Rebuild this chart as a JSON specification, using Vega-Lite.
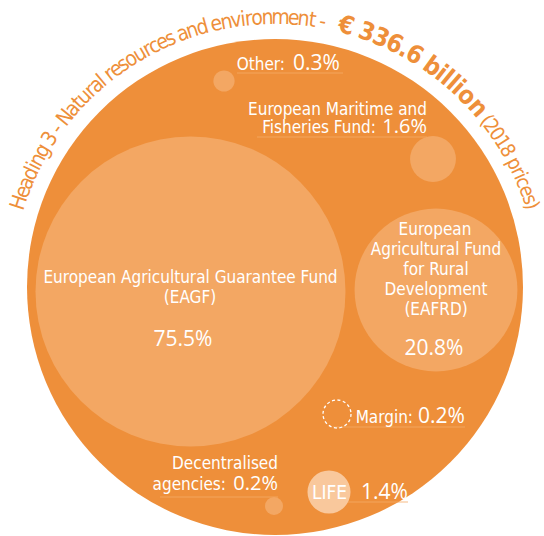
{
  "$schema": "https://vega.github.io/schema/vega-lite/v6.json",
  "width": 544,
  "height": 536,
  "padding": 0,
  "autosize": {"type": "none"},
  "background": "white",
  "config": {"view": {"stroke": null}},
  "datasets": {
    "circles": [
      {"name": "EAGF", "share": 75.5, "x": -84.5, "y": -4.5},
      {"name": "EAFRD", "share": 20.8, "x": 161, "y": -3},
      {"name": "EMFF", "share": 1.6, "x": 158, "y": 128},
      {"name": "LIFE", "share": 1.4, "x": 54, "y": -205},
      {"name": "Other", "share": 0.3, "x": -51, "y": 206},
      {"name": "Decentralised agencies", "share": 0.2, "x": -1, "y": -219},
      {"name": "Margin", "share": 0.2, "x": 62, "y": -127}
    ],
    "underlines": [
      {"label": "Other", "x": -38, "x2": 68, "y": 214},
      {"label": "EMFF", "x": -18, "x2": 152, "y": 150},
      {"label": "EAGF", "x": -223, "x2": 54, "y": 0},
      {"label": "Margin", "x": 58, "x2": 190, "y": -140},
      {"label": "LIFE", "x": 54, "x2": 133, "y": -215},
      {"label": "Decentralised", "x": -115, "x2": 3, "y": -210}
    ],
    "namesCenter": [
      {"text": "European Agricultural Guarantee Fund", "x": -84.5, "y": 4},
      {"text": "(EAGF)", "x": -85, "y": -16},
      {"text": "European", "x": 160, "y": 52},
      {"text": "Agricultural Fund", "x": 161, "y": 32},
      {"text": "for Rural", "x": 161, "y": 12},
      {"text": "Development", "x": 161, "y": -8},
      {"text": "(EAFRD)", "x": 161, "y": -28}
    ],
    "lifeName": [
      {"text": "LIFE", "x": 54.5, "y": -212}
    ],
    "namesRight": [
      {"text": "Other:", "x": 10, "y": 217},
      {"text": "European Maritime and", "x": 152, "y": 172},
      {"text": "Fisheries Fund:", "x": 101, "y": 154},
      {"text": "Decentralised", "x": 3, "y": -182},
      {"text": "agencies:", "x": -49, "y": -203},
      {"text": "Margin:", "x": 138, "y": -136}
    ],
    "numsCenter": [
      {"text": "75.5%", "x": -92, "y": -59},
      {"text": "20.8%", "x": 159, "y": -68}
    ],
    "numsLeft": [
      {"text": "0.3%", "x": 18, "y": 217},
      {"text": "0.2%", "x": 143, "y": -136},
      {"text": "1.4%", "x": 86, "y": -212}
    ],
    "numsRight": [
      {"text": "1.6%", "x": 152, "y": 154},
      {"text": "0.2%", "x": 3, "y": -203}
    ],
    "title": [
      {"c": "H", "a": -71.7, "g": "h"}, {"c": "e", "a": -69.3, "g": "h"}, {"c": "a", "a": -67.3, "g": "h"},
      {"c": "d", "a": -65.1, "g": "h"}, {"c": "i", "a": -63.4, "g": "h"}, {"c": "n", "a": -61.8, "g": "h"},
      {"c": "g", "a": -59.6, "g": "h"}, {"c": "3", "a": -56.6, "g": "h"}, {"c": "-", "a": -54.0, "g": "h"},
      {"c": "N", "a": -51.1, "g": "h"}, {"c": "a", "a": -48.7, "g": "h"}, {"c": "t", "a": -46.9, "g": "h"},
      {"c": "u", "a": -45.1, "g": "h"}, {"c": "r", "a": -43.2, "g": "h"}, {"c": "a", "a": -41.5, "g": "h"},
      {"c": "l", "a": -40.0, "g": "h"}, {"c": "r", "a": -37.9, "g": "h"}, {"c": "e", "a": -36.1, "g": "h"},
      {"c": "s", "a": -34.3, "g": "h"}, {"c": "o", "a": -32.3, "g": "h"}, {"c": "u", "a": -30.1, "g": "h"},
      {"c": "r", "a": -28.2, "g": "h"}, {"c": "c", "a": -26.6, "g": "h"}, {"c": "e", "a": -24.7, "g": "h"},
      {"c": "s", "a": -22.8, "g": "h"}, {"c": "a", "a": -20.0, "g": "h"}, {"c": "n", "a": -17.9, "g": "h"},
      {"c": "d", "a": -15.6, "g": "h"}, {"c": "e", "a": -12.6, "g": "h"}, {"c": "n", "a": -10.4, "g": "h"},
      {"c": "v", "a": -8.3, "g": "h"}, {"c": "i", "a": -6.8, "g": "h"}, {"c": "r", "a": -5.6, "g": "h"},
      {"c": "o", "a": -3.8, "g": "h"}, {"c": "n", "a": -1.6, "g": "h"}, {"c": "m", "a": 1.2, "g": "h"},
      {"c": "e", "a": 4.0, "g": "h"}, {"c": "n", "a": 6.1, "g": "h"}, {"c": "t", "a": 8.0, "g": "h"},
      {"c": "-", "a": 10.2, "g": "h"},
      {"c": "€", "a": 15.3, "g": "b"}, {"c": "3", "a": 19.8, "g": "b"}, {"c": "3", "a": 23.05, "g": "b"},
      {"c": "6", "a": 26.2, "g": "b"}, {"c": ".", "a": 28.55, "g": "b"}, {"c": "6", "a": 31.0, "g": "b"},
      {"c": "b", "a": 35.5, "g": "b"}, {"c": "i", "a": 37.9, "g": "b"}, {"c": "l", "a": 39.5, "g": "b"},
      {"c": "l", "a": 41.1, "g": "b"}, {"c": "i", "a": 42.6, "g": "b"}, {"c": "o", "a": 45.1, "g": "b"},
      {"c": "n", "a": 48.5, "g": "b"},
      {"c": "(", "a": 51.7, "g": "p"}, {"c": "2", "a": 53.3, "g": "p"}, {"c": "0", "a": 55.4, "g": "p"},
      {"c": "1", "a": 57.5, "g": "p"}, {"c": "8", "a": 59.6, "g": "p"}, {"c": "p", "a": 62.7, "g": "p"},
      {"c": "r", "a": 64.5, "g": "p"}, {"c": "i", "a": 65.7, "g": "p"}, {"c": "c", "a": 67.1, "g": "p"},
      {"c": "e", "a": 69.1, "g": "p"}, {"c": "s", "a": 71.0, "g": "p"}, {"c": ")", "a": 72.4, "g": "p"}
    ]
  },
  "layer": [
    {
      "data": {"values": [{"x": 0, "y": 0}]},
      "mark": {"type": "circle", "size": 246016, "color": "#EE8F3A", "opacity": 1},
      "encoding": {
        "x": {"field": "x", "type": "quantitative", "axis": null, "scale": {"domain": [-275, 269], "nice": false, "zero": false}},
        "y": {"field": "y", "type": "quantitative", "axis": null, "scale": {"domain": [-249, 287], "nice": false, "zero": false}}
      }
    },
    {
      "data": {"name": "underlines"},
      "mark": {"type": "rule", "color": "#F4AA68", "strokeWidth": 1, "opacity": 0.8},
      "encoding": {"x": {"field": "x", "type": "quantitative"}, "x2": {"field": "x2"}, "y": {"field": "y", "type": "quantitative"}}
    },
    {
      "data": {"name": "circles"},
      "transform": [{"filter": "datum.name !== 'Margin'"}],
      "mark": {"type": "circle", "opacity": 1},
      "encoding": {
        "x": {"field": "x", "type": "quantitative"},
        "y": {"field": "y", "type": "quantitative"},
        "size": {"field": "share", "type": "quantitative", "legend": null, "scale": {"domain": [0.2, 75.5], "range": [324, 96100], "zero": false, "nice": false}},
        "color": {"condition": {"test": "datum.name === 'LIFE'", "value": "#F9C89C"}, "value": "#F3A763"}
      }
    },
    {
      "data": {"name": "circles"},
      "transform": [{"filter": "datum.name === 'Margin'"}],
      "mark": {"type": "point", "shape": "circle", "filled": false, "size": 784, "stroke": "white", "strokeWidth": 1.3, "strokeDash": [3, 2.5], "opacity": 1},
      "encoding": {"x": {"field": "x", "type": "quantitative"}, "y": {"field": "y", "type": "quantitative"}}
    },
    {
      "data": {"name": "namesCenter"},
      "mark": {"type": "text", "align": "center", "baseline": "alphabetic", "font": "'DejaVu Sans Condensed', sans-serif", "fontSize": 17, "color": "white"},
      "encoding": {"x": {"field": "x", "type": "quantitative"}, "y": {"field": "y", "type": "quantitative"}, "text": {"field": "text"}}
    },
    {
      "data": {"name": "lifeName"},
      "mark": {"type": "text", "align": "center", "baseline": "alphabetic", "font": "'DejaVu Sans Condensed', sans-serif", "fontSize": 19, "color": "white"},
      "encoding": {"x": {"field": "x", "type": "quantitative"}, "y": {"field": "y", "type": "quantitative"}, "text": {"field": "text"}}
    },
    {
      "data": {"name": "namesRight"},
      "mark": {"type": "text", "align": "right", "baseline": "alphabetic", "font": "'DejaVu Sans Condensed', sans-serif", "fontSize": 17, "color": "white"},
      "encoding": {"x": {"field": "x", "type": "quantitative"}, "y": {"field": "y", "type": "quantitative"}, "text": {"field": "text"}}
    },
    {
      "data": {"name": "numsCenter"},
      "mark": {"type": "text", "align": "center", "baseline": "alphabetic", "font": "'Open Sans', sans-serif", "fontSize": 21, "color": "white"},
      "encoding": {"x": {"field": "x", "type": "quantitative"}, "y": {"field": "y", "type": "quantitative"}, "text": {"field": "text"}}
    },
    {
      "data": {"name": "numsLeft"},
      "mark": {"type": "text", "align": "left", "baseline": "alphabetic", "font": "'Open Sans', sans-serif", "fontSize": 21, "color": "white"},
      "encoding": {"x": {"field": "x", "type": "quantitative"}, "y": {"field": "y", "type": "quantitative"}, "text": {"field": "text"}}
    },
    {
      "data": {"name": "numsRight"},
      "mark": {"type": "text", "align": "right", "baseline": "alphabetic", "font": "'Open Sans', sans-serif", "fontSize": 20, "color": "white"},
      "encoding": {"x": {"field": "x", "type": "quantitative"}, "y": {"field": "y", "type": "quantitative"}, "text": {"field": "text"}}
    },
    {
      "data": {"name": "title"},
      "transform": [{"filter": "datum.g === 'h'"}],
      "mark": {"type": "text", "align": "center", "baseline": "alphabetic", "font": "'DejaVu Sans Condensed', sans-serif", "fontSize": 21, "color": "#EE8F3A", "radius": 263, "theta": {"expr": "datum.a * PI / 180"}, "angle": {"expr": "datum.a"}},
      "encoding": {
        "x": {"datum": 0, "type": "quantitative"},
        "y": {"datum": 0, "type": "quantitative"},
        "text": {"field": "c"}
      }
    },
    {
      "data": {"name": "title"},
      "transform": [{"filter": "datum.g === 'b'"}],
      "mark": {"type": "text", "align": "center", "baseline": "alphabetic", "font": "'DejaVu Sans Condensed', sans-serif", "fontSize": 25, "fontWeight": "bold", "color": "#EE8F3A", "radius": 263, "theta": {"expr": "datum.a * PI / 180"}, "angle": {"expr": "datum.a"}},
      "encoding": {
        "x": {"datum": 0, "type": "quantitative"},
        "y": {"datum": 0, "type": "quantitative"},
        "text": {"field": "c"}
      }
    },
    {
      "data": {"name": "title"},
      "transform": [{"filter": "datum.g === 'p'"}],
      "mark": {"type": "text", "align": "center", "baseline": "alphabetic", "font": "'DejaVu Sans Condensed', sans-serif", "fontSize": 20, "color": "#EE8F3A", "radius": 263, "theta": {"expr": "datum.a * PI / 180"}, "angle": {"expr": "datum.a"}},
      "encoding": {
        "x": {"datum": 0, "type": "quantitative"},
        "y": {"datum": 0, "type": "quantitative"},
        "text": {"field": "c"}
      }
    }
  ]
}
